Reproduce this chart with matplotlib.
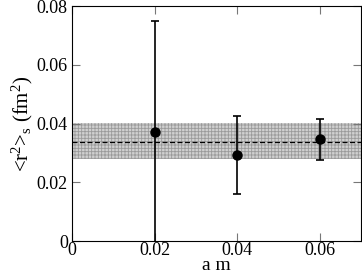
import numpy as np
import matplotlib.pyplot as plt

plt.rcParams['font.family'] = 'Liberation Serif'
plt.rcParams['mathtext.fontset'] = 'custom'
plt.rcParams['mathtext.rm'] = 'Liberation Serif'
plt.rcParams['mathtext.it'] = 'Liberation Serif'
plt.rcParams['hatch.linewidth'] = 0.6

# data
am = [0.02, 0.04, 0.06]
r2 = [0.037, 0.0293, 0.0347]
err = [0.038, 0.0134, 0.007]
band_lo, band_mid, band_hi = 0.0278, 0.0338, 0.0401

fig = plt.figure(figsize=(3.62, 2.73), dpi=100)
ax = fig.add_axes([0.199, 0.117, 0.798, 0.861])

ax.fill_between([0, 0.07], band_lo, band_hi, facecolor='#d0d0d0',
                edgecolor='#9a9a9a', hatch='+++++', linewidth=0)
ax.plot([0, 0.07], [band_mid, band_mid], 'k--', lw=0.9, dashes=(4, 2))
ax.errorbar(am, r2, yerr=err, fmt='o', color='k', ms=6.5, elinewidth=1.2,
            capsize=3, capthick=1.2)

ax.set_xlim(0, 0.07)
ax.set_ylim(0, 0.08)
ax.set_xticks([0, 0.02, 0.04, 0.06])
ax.set_xticklabels(['0', '0.02', '0.04', '0.06'])
ax.set_yticks([0, 0.02, 0.04, 0.06, 0.08])
ax.set_yticklabels(['0', '0.02', '0.04', '0.06', '0.08'])
ax.tick_params(direction='in', top=True, right=True, length=6, labelsize=13,
               color='#777777')
ax.tick_params(axis='x', pad=1)
ax.tick_params(axis='y', pad=3)
ax.set_xlabel('a m', fontsize=14, labelpad=-2)
ax.set_ylabel(r'<r$^2$>$_s$ (fm$^2$)', fontsize=15, labelpad=1)

plt.savefig('out.png')
